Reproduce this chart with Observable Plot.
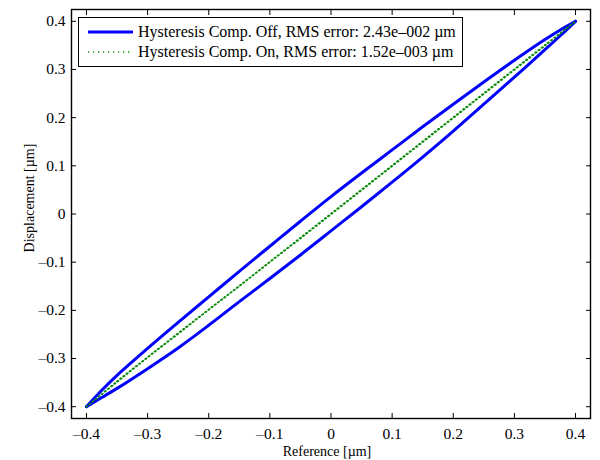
<!DOCTYPE html>
<html><head><meta charset="utf-8">
<script src="https://cdn.jsdelivr.net/npm/d3@7"></script>
<script src="https://cdn.jsdelivr.net/npm/@observablehq/plot@0.6"></script>
<style>
body{margin:0;background:#fff;}
#wrap{position:relative;width:600px;height:460px;font-family:"Liberation Serif","DejaVu Serif",serif;color:#000;}
#wrap svg text{font-family:"Liberation Serif","DejaVu Serif",serif;}
#legend{position:absolute;left:78px;top:17px;width:385px;height:50px;border:1.3px solid #000;background:#fff;box-sizing:border-box;font-size:16px;font-family:"Liberation Serif","DejaVu Serif",serif;}
.row{position:absolute;left:0;height:18px;display:flex;align-items:center;white-space:nowrap;}
.row svg{margin-left:9px;margin-right:5px;}
</style></head>
<body><div id="wrap"></div>
<script>
// Hysteresis Comp. Off — ascending branch (lower) and descending branch (upper)
const refOffUp   = [-0.4, -0.375, -0.35, -0.3, -0.25, -0.2, -0.15, -0.1, -0.05, 0, 0.05, 0.1, 0.15, 0.2, 0.25, 0.3, 0.35, 0.375, 0.4];
const dispOffUp  = [-0.4, -0.381, -0.362, -0.321, -0.278, -0.231, -0.182, -0.134, -0.085, -0.035, 0.015, 0.066, 0.118, 0.172, 0.228, 0.284, 0.341, 0.370, 0.4];
const refOffDown = [0.4, 0.375, 0.35, 0.3, 0.25, 0.2, 0.15, 0.1, 0.05, 0, -0.05, -0.1, -0.15, -0.2, -0.25, -0.3, -0.35, -0.375, -0.4];
const dispOffDown= [0.4, 0.382, 0.362, 0.319, 0.274, 0.228, 0.181, 0.133, 0.085, 0.036, -0.015, -0.067, -0.119, -0.172, -0.225, -0.279, -0.335, -0.366, -0.4];
// Hysteresis Comp. On
const refOnUp    = [-0.4, -0.35, -0.3, -0.25, -0.2, -0.15, -0.1, -0.05, 0, 0.05, 0.1, 0.15, 0.2, 0.25, 0.3, 0.35, 0.4];
const dispOnUp   = [-0.4, -0.349, -0.298, -0.249, -0.199, -0.150, -0.100, -0.051, -0.001, 0.049, 0.099, 0.149, 0.199, 0.249, 0.299, 0.349, 0.4];
const refOnDown  = [0.4, 0.35, 0.3, 0.25, 0.2, 0.15, 0.1, 0.05, 0, -0.05, -0.1, -0.15, -0.2, -0.25, -0.3, -0.35, -0.4];
const dispOnDown = [0.4, 0.351, 0.301, 0.251, 0.201, 0.151, 0.101, 0.051, 0.001, -0.049, -0.099, -0.149, -0.198, -0.247, -0.297, -0.347, -0.4];
const ticks = [-0.4, -0.3, -0.2, -0.1, 0, 0.1, 0.2, 0.3, 0.4];
const seriesNames = ["Hysteresis Comp. Off, RMS error: 2.43e\u2013002 \u00b5m", "Hysteresis Comp. On, RMS error: 1.52e\u2013003 \u00b5m"];
const xLabel = "Reference [\u00b5m]";
const yLabel = "Displacement [\u00b5m]";

const mk = (xs, ys, b) => xs.map((x, i) => ({x, y: ys[i], b}));
const off = mk(refOffUp, dispOffUp, "up").concat(mk(refOffDown, dispOffDown, "down"));
const onA = mk(refOnUp, dispOnUp, "up");
const onB = mk(refOnDown, dispOnDown, "down");
const fmt = d => d === 0 ? "0" : (d < 0 ? "\u2013" : "") + Math.abs(d).toFixed(1);
const blue = "#0000ff", green = "#0a8a0a";
const serif = "'Liberation Serif', 'DejaVu Serif', serif";

const chart = Plot.plot({
  width: 600, height: 460,
  marginLeft: 71, marginRight: 10, marginTop: 9, marginBottom: 42,
  x: {domain: [-0.4245, 0.4245]},
  y: {domain: [-0.4245, 0.4245]},
  style: {fontFamily: serif, fontSize: "14px", color: "#000", background: "#fff"},
  marks: [
    Plot.line(off, {x: "x", y: "y", z: "b", stroke: blue, strokeWidth: 3, curve: "catmull-rom"}),
    Plot.line(onA, {x: "x", y: "y", stroke: green, strokeWidth: 1.5, strokeDasharray: "1.2,2.8", curve: "catmull-rom"}),
    Plot.line(onB, {x: "x", y: "y", stroke: green, strokeWidth: 1.5, strokeDasharray: "1.2,2.8", strokeDashoffset: 2, curve: "catmull-rom"}),
    Plot.frame({stroke: "#000", strokeWidth: 1.4}),
    Plot.axisX(ticks, {anchor: "bottom", tickSize: -5, tickPadding: 14, tickFormat: fmt, label: null, fontSize: 15.5}),
    Plot.axisX(ticks, {anchor: "top", tickSize: -5, tickFormat: () => "", label: null}),
    Plot.axisY(ticks, {anchor: "left", tickSize: -5, tickPadding: 11, tickFormat: fmt, label: null, fontSize: 15.5}),
    Plot.axisY(ticks, {anchor: "right", tickSize: -5, tickFormat: () => "", label: null}),
    Plot.text([xLabel], {frameAnchor: "bottom", dx: -4, dy: 37, fontSize: 14}),
    Plot.text([yLabel], {frameAnchor: "left", textAnchor: "middle", rotate: -90, dx: -42, dy: -16, fontSize: 14})
  ]
});
const wrap = document.getElementById("wrap");
wrap.appendChild(chart);

const leg = document.createElement("div");
leg.id = "legend";
const styles = [{stroke: blue, w: 3, dash: null}, {stroke: green, w: 1.5, dash: "1.2,3.8"}];
seriesNames.forEach((name, i) => {
  const row = document.createElement("div");
  row.className = "row";
  row.style.top = (5 + i * 20) + "px";
  const s = styles[i];
  row.innerHTML = `<svg width="45" height="10"><line x1="0" x2="45" y1="5" y2="5" stroke="${s.stroke}" stroke-width="${s.w}" ${s.dash ? `stroke-dasharray="${s.dash}"` : ""}/></svg><span>${name}</span>`;
  leg.appendChild(row);
});
wrap.appendChild(leg);
</script></body></html>
